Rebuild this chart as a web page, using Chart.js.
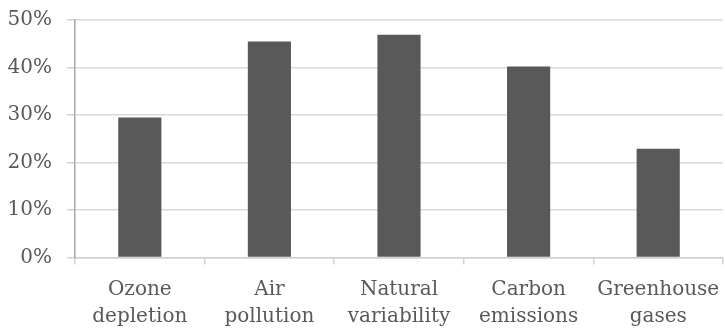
<!DOCTYPE html>
<html>
<head>
<meta charset="utf-8">
<script src="https://cdn.jsdelivr.net/npm/chart.js@4/dist/chart.umd.min.js"></script>
<style>
  html, body { margin: 0; padding: 0; background: #ffffff; }
  #wrap { width: 725px; height: 333px; }
</style>
</head>
<body>
<div id="wrap"><canvas id="c" width="725" height="333"></canvas></div>
<script>
// Causes named, shown as two-line category labels
const categories = [
  ["Ozone", "depletion"],
  ["Air", "pollution"],
  ["Natural", "variability"],
  ["Carbon", "emissions"],
  ["Greenhouse", "gases"]
];
// Share of respondents (%)
const shares = [29.5, 45.5, 46.9, 40.2, 22.9];
// Value axis ticks (%)
const yTicks = [0, 10, 20, 30, 40, 50];

const FONT = "'DejaVu Serif', serif";
const TEXT = "#595959";

new Chart(document.getElementById("c"), {
  type: "bar",
  data: {
    labels: categories,
    datasets: [{
      data: shares,
      backgroundColor: "#595959",
      borderWidth: 0,
      barPercentage: 0.333,
      categoryPercentage: 1.0
    }]
  },
  options: {
    responsive: false,
    animation: false,
    layout: { padding: { top: 20, right: 2, left: 0, bottom: 0 } },
    plugins: { legend: { display: false }, tooltip: { enabled: false } },
    scales: {
      x: {
        offset: true,
        grid: {
          offset: true,
          drawOnChartArea: false,
          drawTicks: true,
          tickLength: 7,
          tickColor: "#D0D0D0",
          lineWidth: 1.5
        },
        border: { color: "#D0D0D0", width: 1.5 },
        ticks: {
          color: TEXT,
          font: { family: FONT, size: 20, lineHeight: 1.33 },
          padding: 12,
          maxRotation: 0,
          autoSkip: false
        },
        afterFit: s => {
          s.height = 75.5;
          s.paddingLeft = 0;
          s.paddingRight = 0;
        }
      },
      y: {
        min: 0,
        max: 50,
        afterBuildTicks: s => { s.ticks = yTicks.map(v => ({ value: v })); },
        grid: {
          color: "#D9D9D9",
          lineWidth: 1.5,
          tickLength: 8,
          tickColor: "#D0D0D0"
        },
        border: { color: "#A6A6A6", width: 1.5 },
        ticks: {
          color: TEXT,
          font: { family: FONT, size: 20 },
          padding: 15,
          callback: v => v + "%"
        },
        afterFit: s => {
          s.width = 75;
          s.paddingTop = 0;
          s.paddingBottom = 0;
        }
      }
    }
  }
});
</script>
</body>
</html>
